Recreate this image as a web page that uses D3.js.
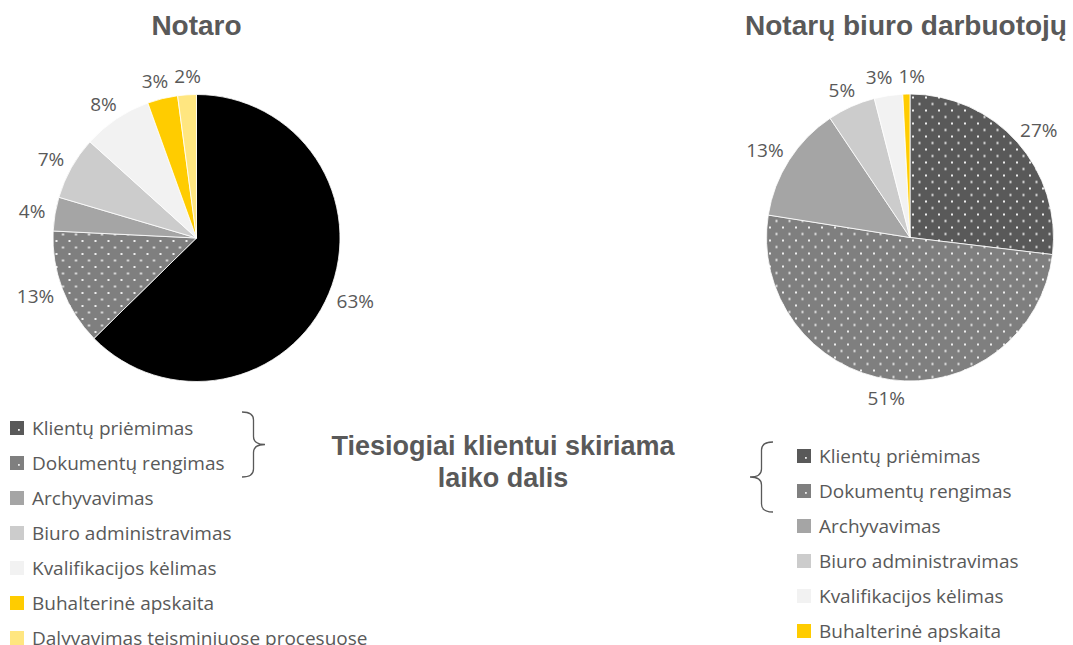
<!DOCTYPE html>
<html>
<head>
<meta charset="utf-8">
<script src="https://cdn.jsdelivr.net/npm/d3@7"></script>
<style>
  body { margin: 0; background: #fff; }
  svg { display: block; }
</style>
</head>
<body>
<svg id="chart"></svg>
<script>
var svgWidth = 1073;
var svgHeight = 645;

// categories and values
var categories = [
  "Klientų priėmimas",
  "Dokumentų rengimas",
  "Archyvavimas",
  "Biuro administravimas",
  "Kvalifikacijos kėlimas",
  "Buhalterinė apskaita",
  "Dalyvavimas teisminiuose procesuose"
];
var notaroValues = [62.6, 13.1, 3.8, 7.1, 7.8, 3.4, 2.1];
var darbuotojuValues = [26.9, 50.6, 13.1, 5.4, 3.2, 0.8];

var titles = ["Notaro", "Notarų biuro darbuotojų"];
var centerText = ["Tiesiogiai klientui skiriama", "laiko dalis"];

var colors = ["#595959", "#7f7f7f", "#a5a5a5", "#cccccc", "#f2f2f2", "#ffcc00", "#ffe680"];
var dotted = [true, true, false, false, false, false, false];
// the notary chart draws its first slice solid black
var notaroColors = ["#000000"].concat(colors.slice(1));

var textColor = "#595959";
var lightFont = "'Open Sans', 'DejaVu Sans', sans-serif";
var boldFont = "'Liberation Sans', Arial, sans-serif";
var labelSize = 19;

var svg = d3.select("#chart")
  .attr("width", svgWidth)
  .attr("height", svgHeight);

// white dot pattern
var defs = svg.append("defs");
colors.forEach(function(c, i) {
  var p = defs.append("pattern")
    .attr("id", "dots" + i)
    .attr("patternUnits", "userSpaceOnUse")
    .attr("width", 13)
    .attr("height", 13);
  p.append("rect").attr("width", 13).attr("height", 13).attr("fill", c);
  [[2, 2], [8.5, 8.5]].forEach(function(d) {
    p.append("rect")
      .attr("x", d[0]).attr("y", d[1])
      .attr("width", 2).attr("height", 2)
      .attr("fill", "#eeeeee");
  });
});

var radius = 143.5;
var pie = d3.pie().sort(null).value(function(d) { return d.value; });
var arc = d3.arc().innerRadius(0).outerRadius(radius);
var fmt = function(v) { return d3.format(".0f")(v) + "%"; };

function drawPie(cx, cy, values, sliceColors) {
  var data = values.map(function(v, i) { return { name: categories[i], value: v, i: i }; });
  var g = svg.append("g").attr("transform", "translate(" + cx + "," + cy + ")");
  var arcs = pie(data);

  g.selectAll("path")
    .data(arcs)
    .join("path")
      .attr("d", arc)
      .attr("fill", function(d) {
        if (d.data.i === 0 && sliceColors[0] === "#000000") return "#000000";
        return dotted[d.data.i] ? "url(#dots" + d.data.i + ")" : sliceColors[d.data.i];
      })
      .attr("stroke", "#ffffff")
      .attr("stroke-width", 0.8);

  // outside-end labels
  var boxes = [];
  var labels = g.selectAll("text")
    .data(arcs)
    .join("text")
      .attr("font-family", lightFont)
      .attr("font-size", labelSize)
      .attr("fill", textColor)
      .attr("text-anchor", "middle")
      .text(function(d) { return fmt(d.data.value); })
      .each(function(d) {
        var a = (d.startAngle + d.endAngle) / 2;
        var w = this.getComputedTextLength();
        var h = 17;
        var r = radius + 10;
        boxes.push({
          x: Math.sin(a) * r + Math.sin(a) * w / 2,
          y: -Math.cos(a) * r - Math.cos(a) * h / 2,
          w: w
        });
      });

  // push neighbouring labels apart when they collide
  for (var k = 0; k < 3; k++) {
    for (var i = 0; i < boxes.length - 1; i++) {
      var b1 = boxes[i], b2 = boxes[i + 1];
      if (Math.abs(b1.y - b2.y) > 16) continue;
      var need = (b1.w + b2.w) / 2 + 6;
      var gap = Math.abs(b1.x - b2.x);
      if (gap < need) {
        var s = (need - gap) / 2;
        var dir = b1.x < b2.x ? 1 : -1;
        b1.x -= s * dir;
        b2.x += s * dir;
      }
    }
  }

  labels
    .attr("x", function(d, i) { return boxes[i].x; })
    .attr("y", function(d, i) { return boxes[i].y + 7; });
}

drawPie(196.5, 238, notaroValues, notaroColors);
drawPie(910, 237.5, darbuotojuValues, colors);

// titles
svg.selectAll(".title")
  .data(titles)
  .join("text")
    .attr("class", "title")
    .attr("x", function(d, i) { return i === 0 ? 196.5 : 906; })
    .attr("y", 35)
    .attr("text-anchor", "middle")
    .attr("font-family", boldFont)
    .attr("font-weight", "bold")
    .attr("font-size", 28)
    .attr("fill", textColor)
    .text(function(d) { return d; });

// middle annotation
svg.append("text")
  .attr("text-anchor", "middle")
  .attr("font-family", boldFont)
  .attr("font-weight", "bold")
  .attr("font-size", 27)
  .attr("fill", textColor)
  .selectAll("tspan")
  .data(centerText)
  .join("tspan")
    .attr("x", 503)
    .attr("y", function(d, i) { return 455 + i * 32; })
    .text(function(d) { return d; });

// legends
function drawLegend(x, y0, count) {
  var g = svg.append("g").attr("transform", "translate(" + x + "," + y0 + ")");
  var rows = g.selectAll("g")
    .data(categories.slice(0, count))
    .join("g")
      .attr("transform", function(d, i) { return "translate(0," + (i * 35) + ")"; });
  rows.append("rect")
    .attr("x", 0).attr("y", -7)
    .attr("width", 14).attr("height", 14)
    .attr("fill", function(d, i) { return colors[i]; });
  rows.filter(function(d, i) { return dotted[i]; })
    .append("rect")
      .attr("x", 8).attr("y", 1)
      .attr("width", 1.8).attr("height", 1.8)
      .attr("fill", "#eeeeee");
  rows.append("text")
    .attr("x", 22)
    .attr("y", 6.5)
    .attr("font-family", lightFont)
    .attr("font-size", labelSize)
    .attr("fill", textColor)
    .text(function(d) { return d; });
  return g;
}

drawLegend(10, 428, 7);
drawLegend(797, 456, 6);

// curly braces grouping the first two legend rows
function brace(xEnd, xTip, yTop, yBot) {
  var xm = (xEnd + xTip) / 2;
  var ym = (yTop + yBot) / 2;
  var c = 8;
  var p = d3.path();
  p.moveTo(xEnd, yTop);
  p.quadraticCurveTo(xm, yTop, xm, yTop + c);
  p.lineTo(xm, ym - c);
  p.quadraticCurveTo(xm, ym, xTip, ym);
  p.quadraticCurveTo(xm, ym, xm, ym + c);
  p.lineTo(xm, yBot - c);
  p.quadraticCurveTo(xm, yBot, xEnd, yBot);
  svg.append("path")
    .attr("d", p.toString())
    .attr("fill", "none")
    .attr("stroke", textColor)
    .attr("stroke-width", 1.3);
}

brace(242, 265, 412, 477);
brace(773, 750, 442, 512);
</script>
</body>
</html>
